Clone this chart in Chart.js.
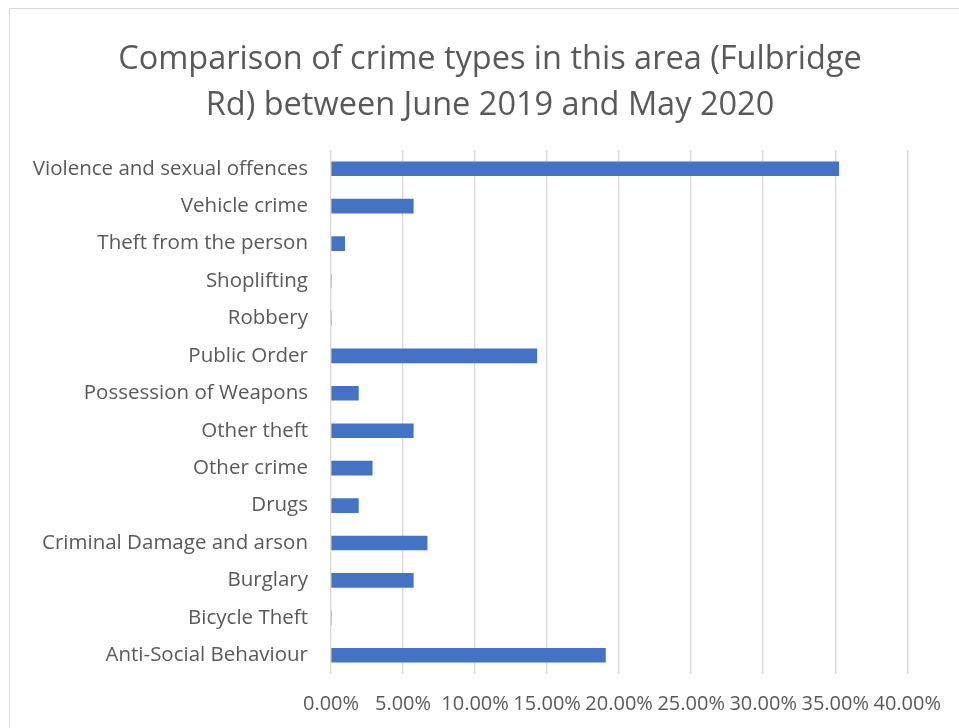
<!DOCTYPE html>
<html lang="en">
<head>
  <meta charset="UTF-8">
  <title>Crime types - Fulbridge Rd</title>
  <style>
    html, body {
      margin: 0;
      padding: 0;
      background: #ffffff;
    }
    #wrap {
      position: relative;
      width: 959px;
      height: 728px;
      overflow: hidden;
    }
    #frame {
      position: absolute;
      left: 9px;
      top: 8px;
      width: 1000px;
      height: 1000px;
      border-left: 1px solid #d9d9d9;
      border-top: 1px solid #d9d9d9;
      box-sizing: border-box;
    }
    canvas {
      position: absolute;
      left: 0;
      top: 0;
    }
  </style>
</head>
<body>

<div id="wrap">
  <div id="frame"></div>
  <canvas id="crimeChart" width="959" height="728"></canvas>
</div>

<script src="https://cdn.jsdelivr.net/npm/chart.js"></script>
<script>
  // categories, listed top to bottom as they appear
  const crimeTypes = [
    'Violence and sexual offences',
    'Vehicle crime',
    'Theft from the person',
    'Shoplifting',
    'Robbery',
    'Public Order',
    'Possession of Weapons',
    'Other theft',
    'Other crime',
    'Drugs',
    'Criminal Damage and arson',
    'Burglary',
    'Bicycle Theft',
    'Anti-Social Behaviour'
  ];

  // share of all crimes, in percent
  const crimeShare = [35.24, 5.71, 0.95, 0, 0, 14.29, 1.90, 5.71, 2.86, 1.90, 6.67, 5.71, 0, 19.05];

  const titleLines = ['Comparison of crime types in this area (Fulbridge', 'Rd) between June 2019 and May 2020'];

  const textGrey = '#595959';
  const gridGrey = '#d9d9d9';
  const fontName = "'Open Sans', sans-serif";

  // centre the title on the whole chart frame, not on the padded box
  const centreTitle = {
    id: 'centreTitle',
    afterLayout(chart) {
      if (chart.titleBlock) {
        chart.titleBlock.left = 9;
        chart.titleBlock.right = 971;
      }
    }
  };

  const ctx = document.getElementById('crimeChart').getContext('2d');
  const crimeChart = new Chart(ctx, {
    type: 'bar',
    data: {
      labels: crimeTypes,
      datasets: [{
        data: crimeShare,
        backgroundColor: '#4472c4',
        borderWidth: 0,
        barThickness: 14
      }]
    },
    options: {
      indexAxis: 'y',
      responsive: false,
      animation: false,
      layout: {
        padding: { left: 0, right: 51, top: 0, bottom: 0 }
      },
      plugins: {
        legend: { display: false },
        tooltip: { enabled: false },
        title: {
          display: true,
          text: titleLines,
          color: textGrey,
          font: { family: fontName, size: 32.5, weight: 'normal', lineHeight: 1.4 },
          padding: { top: 37, bottom: 22 }
        }
      },
      scales: {
        x: {
          min: 0,
          max: 40,
          ticks: {
            stepSize: 5,
            autoSkip: false,
            color: textGrey,
            font: { family: fontName, size: 20 },
            padding: 18,
            maxRotation: 0,
            callback: v => v.toFixed(2) + '%'
          },
          grid: {
            color: gridGrey,
            lineWidth: 1.4,
            drawTicks: false
          },
          border: { display: false },
          afterFit: s => { s.height = 54; }
        },
        y: {
          ticks: {
            color: textGrey,
            font: { family: fontName, size: 20.5 },
            padding: 23,
            autoSkip: false
          },
          grid: { display: false, drawTicks: false },
          border: { display: false },
          afterFit: s => { s.width = 331; }
        }
      }
    },
    plugins: [centreTitle]
  });
</script>

</body>
</html>
